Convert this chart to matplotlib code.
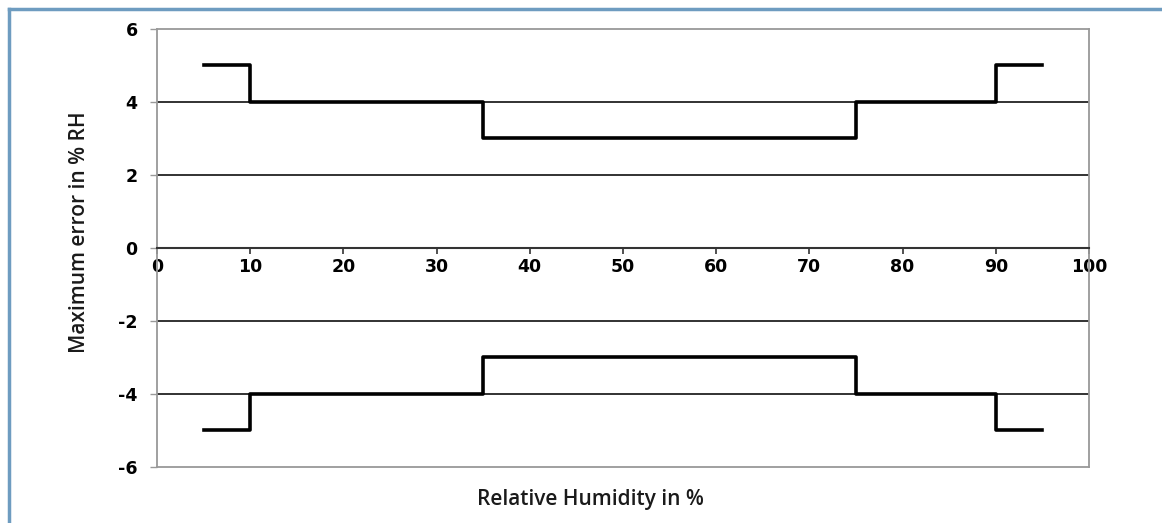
import matplotlib.pyplot as plt
from matplotlib.lines import Line2D

# --- step data: upper and lower tolerance limits ---
rh_steps = [5, 10, 35, 75, 90, 95]
upper_err = [5, 4, 3, 4, 5, 5]
lower_err = [-5, -4, -3, -4, -5, -5]

x_ticks = [0, 10, 20, 30, 40, 50, 60, 70, 80, 90, 100]
y_ticks = [-6, -4, -2, 0, 2, 4, 6]

plt.rcParams["axes.unicode_minus"] = False

fig = plt.figure(figsize=(11.62, 5.23), dpi=100)
ax = fig.add_axes([0.1351, 0.1071, 0.8021, 0.8375])

# gridlines
for y in [-4, -2, 2, 4]:
    ax.axhline(y, color="#222222", linewidth=1.3, zorder=1)

ax.step(rh_steps, upper_err, where="post", color="black", linewidth=2.6, zorder=3)
ax.step(rh_steps, lower_err, where="post", color="black", linewidth=2.6, zorder=3)

ax.set_xlim(0, 100)
ax.set_ylim(-6, 6)

# frame
for side in ["top", "right", "left"]:
    ax.spines[side].set_color("#999999")
    ax.spines[side].set_linewidth(1.3)
ax.spines["bottom"].set_position(("data", 0))
ax.spines["bottom"].set_color("#333333")
ax.spines["bottom"].set_linewidth(1.5)
ax.axhline(-6, color="#999999", linewidth=1.3, clip_on=False, zorder=2)

ax.set_xticks(x_ticks)
ax.set_yticks(y_ticks)
ax.tick_params(axis="x", direction="out", length=4, width=1.2, color="#333333",
               pad=3, labelsize=12.5)
ax.tick_params(axis="y", direction="out", length=5, width=1.0, color="#999999",
               pad=9, labelsize=12.5)
for lbl in ax.get_xticklabels() + ax.get_yticklabels():
    lbl.set_fontweight("bold")
    lbl.set_fontfamily("DejaVu Sans")

fig.text(80 / 1162, 0.556, "Maximum error in % RH", rotation=90, ha="center",
         va="center", fontsize=15, fontfamily="Open Sans", fontweight="semibold",
         color="#1a1a1a")
fig.text(0.508, 0.045, "Relative Humidity in %", ha="center", va="center",
         fontsize=15, fontfamily="Open Sans", fontweight="semibold",
         color="#1a1a1a")

# outer border (left and top only visible)
fig.add_artist(Line2D([9 / 1162, 9 / 1162], [0, 1 - 9 / 523],
                      transform=fig.transFigure, color="#6e9cc0", linewidth=2.5))
fig.add_artist(Line2D([9 / 1162, 1], [1 - 9 / 523, 1 - 9 / 523],
                      transform=fig.transFigure, color="#6e9cc0", linewidth=2.5))

plt.savefig("out.png", dpi=100)
